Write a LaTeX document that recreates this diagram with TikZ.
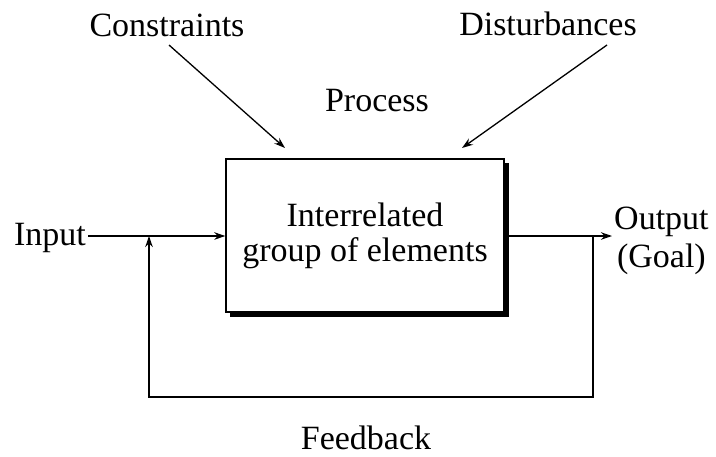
\documentclass[tikz,border=0pt]{standalone}
\usepackage{fontspec}
\setmainfont{Liberation Serif}
\usetikzlibrary{arrows.meta}
\begin{document}
\begin{tikzpicture}[x=1pt,y=-1pt,
  rotulo/.style={font=\fontsize{34}{38}\selectfont,inner sep=2pt,align=center},
  bloco/.style={draw,line width=1.4pt,fill=white,minimum width=278pt,minimum height=153pt,
    font=\fontsize{34}{35}\selectfont,align=center},
  seta/.style={-{Stealth[length=11pt,width=7.5pt]},line width=1.3pt}]
  \useasboundingbox (0,0) rectangle (716,456);
  % sombra do bloco
  \fill (230,163) rectangle (509,317);
  \node[bloco] (proc) at (365,235.5) {Interrelated\\group of elements};
  \node[rotulo,anchor=base] (constr) at (167,36) {Constraints};
  \node[rotulo,anchor=base] (disturb) at (548,35) {Disturbances};
  \node[rotulo,anchor=base] (process) at (377,111) {Process};
  \node[rotulo,anchor=base east] (input) at (88,245) {Input};
  \node[rotulo,anchor=west] (output) at (612,241) {Output\\(Goal)};
  \node[rotulo,anchor=base] (feedback) at (366,449) {Feedback};
  \coordinate (cIni) at (169,45);
  \coordinate (cEnd) at (285,148);
  \coordinate (dIni) at (607,45);
  \coordinate (dEnd) at (462,148);
  \coordinate (fbL) at (149,236);
  \coordinate (fbR) at (593,236);
  \coordinate (fbB) at (593,397);
  \draw[seta] (cIni) -- (cEnd);
  \draw[seta] (dIni) -- (dEnd);
  \draw[seta] (input.east |- fbL) -- (proc.west |- fbL);
  \draw[seta] (proc.east |- fbR) -- (output.west |- fbR);
  \draw[seta] (fbR) -- (fbB) -| (fbL);
\end{tikzpicture}
\end{document}
